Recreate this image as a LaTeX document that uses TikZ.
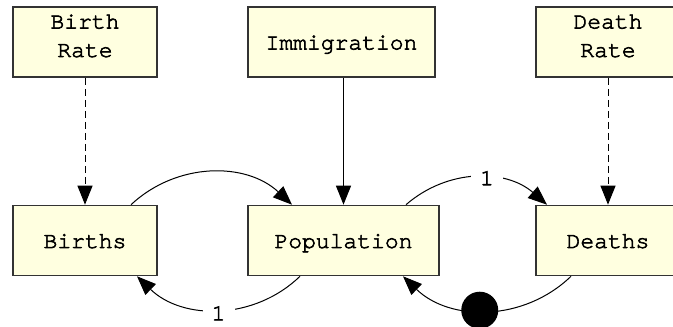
\documentclass[tikz,border=0pt]{standalone}
\usepackage{fontspec}
\setmonofont[FakeBold=2.5]{TeX Gyre Cursor}
\usetikzlibrary{arrows.meta}
\definecolor{boxfill}{HTML}{FFFFE0}
\definecolor{boxline}{HTML}{333333}

\begin{document}
\begin{tikzpicture}[
    x=1pt, y=1pt,
    block/.style={
        rectangle,
        draw=boxline,
        fill=boxfill,
        line width=1.6pt,
        minimum height=70pt,
        minimum width=144pt,
        inner sep=0pt,
        align=center,
        text height=18pt,
        text depth=3pt,
        font=\ttfamily\fontsize{23}{28.5}\selectfont,
        },
    twoline/.style={
        text height=43pt,
        text depth=13pt,
        },
    link/.style={
        line width=1pt,
        -{Triangle[length=19pt,width=15pt]},
        },
    rate/.style={
        link,
        dash pattern=on 7pt off 4pt,
        },
    mylabel/.style={
        fill=white,
        inner sep=0pt,
        minimum width=32pt,
        font=\ttfamily\fontsize{23}{23}\selectfont,
        },
    blob/.style={
        circle,
        fill=black,
        minimum size=37pt,
        inner sep=0pt,
        },
    ]
    \useasboundingbox (0,0) rectangle (673,327);
    \clip (0,0) rectangle (673,327);

    \node [block, twoline] (brate) at (85,285) {Birth\\Rate};
    \node [block, minimum width=187pt] (immig) at (341.5,285) {Immigration};
    \node [block, twoline] (drate) at (608,285) {Death\\Rate};

    \node [block] (births) at (85,86.5) {Births};
    \node [block, minimum width=191pt] (pop) at (343.5,86.5) {Population};
    \node [block] (deaths) at (608,86.5) {Deaths};

    \draw [rate] (brate) -- (births);
    \draw [rate] (drate) -- (deaths);
    \draw [link] (immig.south -| pop.north) -- (pop.north);

    \draw [link] ([xshift=46pt]births.north) to[bend left=43] ([xshift=-51.5pt]pop.north);
    \draw [link] ([xshift=62.5pt]pop.north) to[bend left=41]
        node[mylabel, pos=0.57] (l1) {1} ([xshift=-61pt]deaths.north);

    \draw [link] ([xshift=-43.5pt]pop.south) to[bend left=44]
        node[mylabel, pos=0.5, yshift=-4pt] (l2) {1} ([xshift=52pt]births.south);
    \draw [link] ([xshift=-37pt]deaths.south) to[bend left=44]
        node[blob, pos=0.54] (loss) {} ([xshift=59.5pt]pop.south);

\end{tikzpicture}
\end{document}
